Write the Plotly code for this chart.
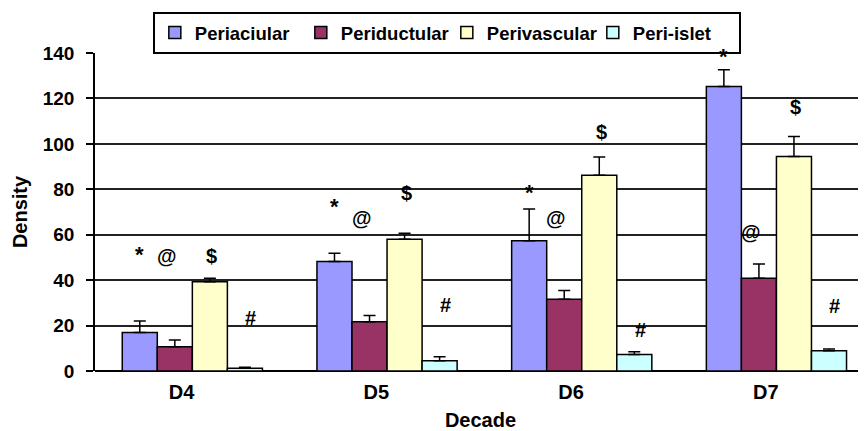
import plotly.graph_objects as go

decades = ["D4", "D5", "D6", "D7"]
series_names = ["Periaciular", "Periductular", "Perivascular", "Peri-islet"]
colors = ["#9999FF", "#993366", "#FFFFCC", "#CCFFFF"]

periacinar = [17, 48.2, 57.3, 125.2]
periacinar_err = [5, 3.6, 14, 7.4]
periductular = [10.7, 21.7, 31.6, 40.8]
periductular_err = [3, 2.7, 3.8, 6.3]
perivascular = [39.3, 58, 86.2, 94.4]
perivascular_err = [1.5, 2.6, 8, 8.8]
periislet = [1.2, 4.5, 7.3, 8.9]
periislet_err = [0.5, 1.8, 1.2, 0.8]

values = [periacinar, periductular, perivascular, periislet]
errors = [periacinar_err, periductular_err, perivascular_err, periislet_err]

# significance symbols: one per series, y-position in data units per decade
symbols = ["*", "@", "$", "#"]
symbol_y = [
    [51.5, 72.5, 78.5, 138.5],
    [50.7, 67.4, 67.4, 61.2],
    [50.7, 78.4, 105.3, 116.3],
    [23.3, 29.0, 18.0, 28.6],
]
symbol_dx = [-0.27, -0.13, 0.1, 0.3]
label_shift = -0.055  # category labels sit slightly left of the bar groups

FONT = "Arial, Liberation Sans, sans-serif"
xs = list(range(len(decades)))

fig = go.Figure()
for name, col, v, e in zip(series_names, colors, values, errors):
    fig.add_trace(go.Bar(
        x=xs, y=v, name=name,
        marker=dict(color=col, line=dict(color="black", width=1.5)),
        error_y=dict(type="data", array=e, arrayminus=[0] * len(e), symmetric=False,
                     color="black", thickness=1.5, width=6),
    ))

for sym, ys, dx in zip(symbols, symbol_y, symbol_dx):
    for i, yv in enumerate(ys):
        fig.add_annotation(x=xs[i] + dx, y=yv, text=sym, showarrow=False,
                           xref="x", yref="y",
                           font=dict(family=FONT, size=20 if sym != "*" else 22,
                                     color="black", weight="bold"))

# page has an 8px body margin, so the figure is 8px smaller than the window
fig.update_layout(
    width=858, height=423,
    margin=dict(l=87, r=0, t=45, b=60, autoexpand=False),
    paper_bgcolor="white", plot_bgcolor="white",
    barmode="group", bargap=0.28, bargroupgap=0,
    font=dict(family=FONT, color="black"),
    showlegend=True,
    legend=dict(
        orientation="h", x=0.075, y=1.129, xanchor="left", yanchor="top",
        bordercolor="black", borderwidth=2, bgcolor="white",
        font=dict(family=FONT, size=18.5, color="black", weight="bold"),
        itemwidth=30, traceorder="normal",
        entrywidth=101, entrywidthmode="pixels",
    ),
    xaxis=dict(
        range=[-0.5, 3.46], tickvals=[x + label_shift for x in xs], ticktext=decades,
        showgrid=False, zeroline=False, showline=False, ticks="",
        automargin=False, ticklabelstandoff=7,
        tickfont=dict(family=FONT, size=20, color="black", weight="bold"),
        title=dict(text="Decade", font=dict(family=FONT, size=20, color="black", weight="bold"), standoff=14),
    ),
    yaxis=dict(
        range=[0, 140], dtick=20, automargin=False,
        showgrid=True, gridcolor="#222222", gridwidth=1.5,
        zeroline=True, zerolinecolor="black", zerolinewidth=1.5,
        showline=True, linecolor="black", linewidth=1.5,
        ticks="outside", ticklen=7, tickcolor="black", tickwidth=1.5,
        ticklabelstandoff=8,
        tickfont=dict(family=FONT, size=19, color="black", weight="bold"),
        title=dict(text="Density", font=dict(family=FONT, size=20, color="black", weight="bold"), standoff=10),
    ),
)

fig.write_html("out.html")
